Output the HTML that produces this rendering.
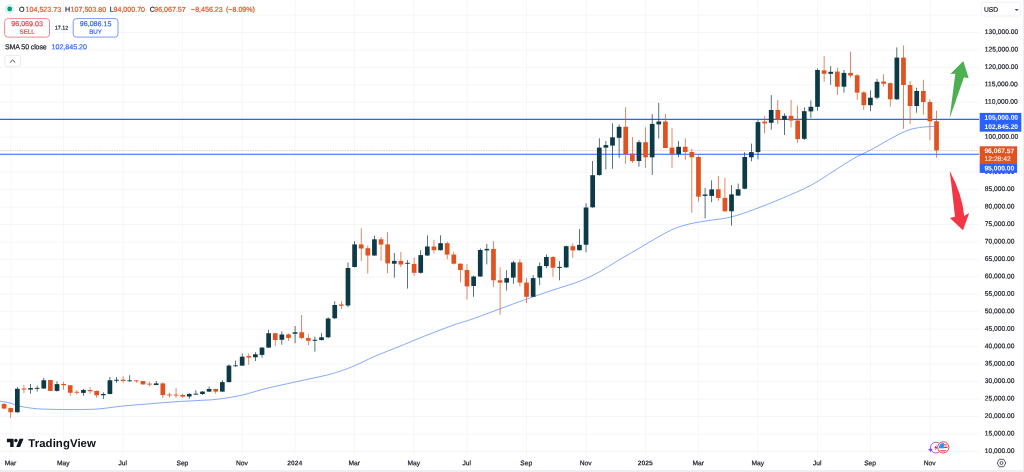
<!DOCTYPE html>
<html><head><meta charset="utf-8"><title>Chart</title>
<style>
html,body{margin:0;padding:0;background:#fff;}
#w{position:relative;width:1024px;height:472px;overflow:hidden;background:#eceef2;font-family:"Liberation Sans",sans-serif;}
#p{position:absolute;left:0;top:0;width:1022.6px;height:470.2px;background:#fff;}
svg{position:absolute;left:0;top:0;}
.t{position:absolute;white-space:nowrap;line-height:1;}
.lg{font-size:7.1px;}
.sm{font-size:6.2px;}
.xs{font-size:5.4px;}
.ax{font-size:6.7px;}
.k{color:#131722;}
.o{color:#e0521f;}
.w{color:#fff;}
.b{font-weight:bold;}
.tv{font-size:11.4px;font-weight:bold;color:#131722;letter-spacing:-0.2px;}
.bx{position:absolute;}
</style></head><body>
<div id="w"><div id="p"></div>
<svg width="1024" height="472" viewBox="0 0 1024 472">
<line x1="0" x2="979" y1="451.40" y2="451.40" stroke="#f3f4f7" stroke-width="0.8"/>
<line x1="0" x2="979" y1="433.94" y2="433.94" stroke="#f3f4f7" stroke-width="0.8"/>
<line x1="0" x2="979" y1="416.49" y2="416.49" stroke="#f3f4f7" stroke-width="0.8"/>
<line x1="0" x2="979" y1="399.03" y2="399.03" stroke="#f3f4f7" stroke-width="0.8"/>
<line x1="0" x2="979" y1="381.58" y2="381.58" stroke="#f3f4f7" stroke-width="0.8"/>
<line x1="0" x2="979" y1="364.12" y2="364.12" stroke="#f3f4f7" stroke-width="0.8"/>
<line x1="0" x2="979" y1="346.67" y2="346.67" stroke="#f3f4f7" stroke-width="0.8"/>
<line x1="0" x2="979" y1="329.21" y2="329.21" stroke="#f3f4f7" stroke-width="0.8"/>
<line x1="0" x2="979" y1="311.76" y2="311.76" stroke="#f3f4f7" stroke-width="0.8"/>
<line x1="0" x2="979" y1="294.30" y2="294.30" stroke="#f3f4f7" stroke-width="0.8"/>
<line x1="0" x2="979" y1="276.85" y2="276.85" stroke="#f3f4f7" stroke-width="0.8"/>
<line x1="0" x2="979" y1="259.39" y2="259.39" stroke="#f3f4f7" stroke-width="0.8"/>
<line x1="0" x2="979" y1="241.94" y2="241.94" stroke="#f3f4f7" stroke-width="0.8"/>
<line x1="0" x2="979" y1="224.48" y2="224.48" stroke="#f3f4f7" stroke-width="0.8"/>
<line x1="0" x2="979" y1="207.03" y2="207.03" stroke="#f3f4f7" stroke-width="0.8"/>
<line x1="0" x2="979" y1="189.57" y2="189.57" stroke="#f3f4f7" stroke-width="0.8"/>
<line x1="0" x2="979" y1="172.12" y2="172.12" stroke="#f3f4f7" stroke-width="0.8"/>
<line x1="0" x2="979" y1="154.66" y2="154.66" stroke="#f3f4f7" stroke-width="0.8"/>
<line x1="0" x2="979" y1="137.21" y2="137.21" stroke="#f3f4f7" stroke-width="0.8"/>
<line x1="0" x2="979" y1="119.75" y2="119.75" stroke="#f3f4f7" stroke-width="0.8"/>
<line x1="0" x2="979" y1="102.30" y2="102.30" stroke="#f3f4f7" stroke-width="0.8"/>
<line x1="0" x2="979" y1="84.84" y2="84.84" stroke="#f3f4f7" stroke-width="0.8"/>
<line x1="0" x2="979" y1="67.39" y2="67.39" stroke="#f3f4f7" stroke-width="0.8"/>
<line x1="0" x2="979" y1="49.93" y2="49.93" stroke="#f3f4f7" stroke-width="0.8"/>
<line x1="0" x2="979" y1="32.48" y2="32.48" stroke="#f3f4f7" stroke-width="0.8"/>
<line x1="0" x2="979" y1="15.02" y2="15.02" stroke="#f3f4f7" stroke-width="0.8"/>
<line x1="10.71" x2="10.71" y1="0" y2="455" stroke="#f3f4f7" stroke-width="0.8"/>
<line x1="63.62" x2="63.62" y1="0" y2="455" stroke="#f3f4f7" stroke-width="0.8"/>
<line x1="123.13" x2="123.13" y1="0" y2="455" stroke="#f3f4f7" stroke-width="0.8"/>
<line x1="182.65" x2="182.65" y1="0" y2="455" stroke="#f3f4f7" stroke-width="0.8"/>
<line x1="242.17" x2="242.17" y1="0" y2="455" stroke="#f3f4f7" stroke-width="0.8"/>
<line x1="295.07" x2="295.07" y1="0" y2="455" stroke="#f3f4f7" stroke-width="0.8"/>
<line x1="354.59" x2="354.59" y1="0" y2="455" stroke="#f3f4f7" stroke-width="0.8"/>
<line x1="414.11" x2="414.11" y1="0" y2="455" stroke="#f3f4f7" stroke-width="0.8"/>
<line x1="467.01" x2="467.01" y1="0" y2="455" stroke="#f3f4f7" stroke-width="0.8"/>
<line x1="526.53" x2="526.53" y1="0" y2="455" stroke="#f3f4f7" stroke-width="0.8"/>
<line x1="586.04" x2="586.04" y1="0" y2="455" stroke="#f3f4f7" stroke-width="0.8"/>
<line x1="645.56" x2="645.56" y1="0" y2="455" stroke="#f3f4f7" stroke-width="0.8"/>
<line x1="698.47" x2="698.47" y1="0" y2="455" stroke="#f3f4f7" stroke-width="0.8"/>
<line x1="757.98" x2="757.98" y1="0" y2="455" stroke="#f3f4f7" stroke-width="0.8"/>
<line x1="817.50" x2="817.50" y1="0" y2="455" stroke="#f3f4f7" stroke-width="0.8"/>
<line x1="870.40" x2="870.40" y1="0" y2="455" stroke="#f3f4f7" stroke-width="0.8"/>
<line x1="929.92" x2="929.92" y1="0" y2="455" stroke="#f3f4f7" stroke-width="0.8"/>
<path d="M0.0,401.2 C1.7,401.5 6.7,402.2 10.0,403.0 C13.3,403.8 15.4,405.3 20.0,406.2 C24.6,407.2 30.4,408.2 37.5,408.8 C44.6,409.3 55.0,409.4 62.5,409.5 C70.0,409.6 76.2,409.6 82.5,409.5 C88.8,409.4 92.9,409.4 100.0,408.8 C107.1,408.1 116.7,406.6 125.0,405.8 C133.3,404.9 141.7,404.4 150.0,403.8 C158.3,403.1 166.7,402.3 175.0,401.8 C183.3,401.2 192.9,400.8 200.0,400.4 C207.1,400.0 210.4,400.1 217.5,399.2 C224.6,398.4 234.6,396.8 242.5,395.0 C250.4,393.2 256.2,390.9 265.0,388.8 C273.8,386.6 285.0,384.2 295.0,382.0 C305.0,379.8 317.5,377.3 325.0,375.5 C332.5,373.7 335.0,372.9 340.0,371.2 C345.0,369.6 349.2,368.0 355.0,365.5 C360.8,363.0 367.5,359.5 375.0,356.2 C382.5,353.0 393.3,349.0 400.0,346.2 C406.7,343.5 409.2,342.4 415.0,340.0 C420.8,337.6 428.2,334.6 435.0,332.0 C441.8,329.4 449.9,326.4 456.0,324.2 C462.1,322.1 464.4,321.8 471.8,319.2 C479.2,316.6 491.4,312.0 500.4,308.7 C509.4,305.4 517.3,302.4 525.8,299.4 C534.3,296.4 542.2,293.6 551.2,290.6 C560.2,287.6 571.8,284.3 579.8,281.2 C587.8,278.1 592.5,275.6 598.9,272.2 C605.2,268.8 611.5,264.4 617.9,260.6 C624.2,256.8 630.6,253.2 637.0,249.5 C643.4,245.8 649.8,241.7 656.1,238.2 C662.5,234.7 668.8,230.9 675.1,228.3 C681.5,225.8 687.8,224.3 694.2,222.9 C700.6,221.5 707.3,220.9 713.3,219.9 C719.3,218.9 723.3,219.0 730.3,217.2 C737.3,215.4 746.4,212.3 755.1,209.1 C763.8,205.9 773.4,202.0 782.6,198.1 C791.8,194.2 801.9,190.0 810.2,185.7 C818.5,181.3 824.9,176.6 832.2,172.0 C839.5,167.4 847.8,161.9 854.2,158.2 C860.6,154.5 864.4,153.3 870.8,149.9 C877.2,146.5 886.4,140.8 892.8,137.5 C899.2,134.2 904.2,131.5 909.3,129.8 C914.3,128.1 918.4,127.7 923.1,127.1 C927.8,126.5 935.1,126.5 937.5,126.4" fill="none" stroke="#6494fb" stroke-width="0.8" stroke-linejoin="round"/>
<line x1="0" x2="979" y1="119.3" y2="119.3" stroke="#2962ff" stroke-width="1.15"/>
<line x1="0" x2="979" y1="154.2" y2="154.2" stroke="#2962ff" stroke-width="1.15"/>
<line x1="0" x2="979" y1="150.6" y2="150.6" stroke="#e0521f" stroke-width="0.7" stroke-dasharray="0.8 0.9" opacity="0.6"/>
<rect x="3.75" y="403.00" width="0.7" height="6.40" fill="#e0521f"/>
<rect x="1.75" y="404.00" width="4.7" height="4.50" fill="#e0521f"/>
<rect x="10.36" y="407.50" width="0.7" height="10.60" fill="#e0521f"/>
<rect x="8.36" y="408.10" width="4.7" height="4.15" fill="#e0521f"/>
<rect x="16.98" y="387.25" width="0.7" height="25.35" fill="#0c3a47"/>
<rect x="14.98" y="388.75" width="4.7" height="23.50" fill="#0c3a47"/>
<rect x="23.59" y="385.00" width="0.7" height="8.10" fill="#e0521f"/>
<rect x="21.59" y="388.50" width="4.7" height="1.00" fill="#e0521f"/>
<rect x="30.20" y="384.00" width="0.7" height="9.75" fill="#0c3a47"/>
<rect x="28.20" y="388.10" width="4.7" height="1.50" fill="#0c3a47"/>
<rect x="36.82" y="385.60" width="0.7" height="5.90" fill="#0c3a47"/>
<rect x="34.82" y="387.88" width="4.7" height="0.90" fill="#0c3a47"/>
<rect x="43.43" y="377.90" width="0.7" height="10.85" fill="#0c3a47"/>
<rect x="41.43" y="380.25" width="4.7" height="8.25" fill="#0c3a47"/>
<rect x="50.04" y="379.80" width="0.7" height="11.40" fill="#e0521f"/>
<rect x="48.04" y="380.00" width="4.7" height="10.90" fill="#e0521f"/>
<rect x="56.65" y="381.25" width="0.7" height="10.35" fill="#0c3a47"/>
<rect x="54.65" y="384.10" width="4.7" height="6.80" fill="#0c3a47"/>
<rect x="63.27" y="381.90" width="0.7" height="7.70" fill="#e0521f"/>
<rect x="61.27" y="384.00" width="4.7" height="1.25" fill="#e0521f"/>
<rect x="69.88" y="385.00" width="0.7" height="10.60" fill="#e0521f"/>
<rect x="67.88" y="385.25" width="4.7" height="7.50" fill="#e0521f"/>
<rect x="76.49" y="390.00" width="0.7" height="4.40" fill="#e0521f"/>
<rect x="74.49" y="391.80" width="4.7" height="0.90" fill="#e0521f"/>
<rect x="83.11" y="389.00" width="0.7" height="6.60" fill="#0c3a47"/>
<rect x="81.11" y="390.00" width="4.7" height="2.90" fill="#0c3a47"/>
<rect x="89.72" y="387.25" width="0.7" height="6.50" fill="#e0521f"/>
<rect x="87.72" y="390.00" width="4.7" height="1.25" fill="#e0521f"/>
<rect x="96.33" y="390.60" width="0.7" height="7.15" fill="#e0521f"/>
<rect x="94.33" y="390.90" width="4.7" height="4.35" fill="#e0521f"/>
<rect x="102.95" y="392.25" width="0.7" height="6.75" fill="#0c3a47"/>
<rect x="100.95" y="394.00" width="4.7" height="1.25" fill="#0c3a47"/>
<rect x="109.56" y="376.90" width="0.7" height="17.50" fill="#0c3a47"/>
<rect x="107.56" y="380.25" width="4.7" height="13.75" fill="#0c3a47"/>
<rect x="116.17" y="376.90" width="0.7" height="5.85" fill="#0c3a47"/>
<rect x="114.17" y="379.75" width="4.7" height="1.00" fill="#0c3a47"/>
<rect x="122.78" y="376.25" width="0.7" height="6.25" fill="#e0521f"/>
<rect x="120.78" y="379.75" width="4.7" height="1.25" fill="#e0521f"/>
<rect x="129.40" y="375.25" width="0.7" height="6.25" fill="#0c3a47"/>
<rect x="127.40" y="380.38" width="4.7" height="0.90" fill="#0c3a47"/>
<rect x="136.01" y="380.00" width="0.7" height="2.75" fill="#e0521f"/>
<rect x="134.01" y="380.38" width="4.7" height="0.90" fill="#e0521f"/>
<rect x="142.62" y="380.80" width="0.7" height="3.80" fill="#e0521f"/>
<rect x="140.62" y="381.00" width="4.7" height="3.40" fill="#e0521f"/>
<rect x="149.24" y="381.90" width="0.7" height="4.35" fill="#e0521f"/>
<rect x="147.24" y="383.68" width="4.7" height="0.90" fill="#e0521f"/>
<rect x="155.85" y="381.00" width="0.7" height="4.25" fill="#0c3a47"/>
<rect x="153.85" y="383.40" width="4.7" height="1.60" fill="#0c3a47"/>
<rect x="162.46" y="382.50" width="0.7" height="15.60" fill="#e0521f"/>
<rect x="160.46" y="383.40" width="4.7" height="11.60" fill="#e0521f"/>
<rect x="169.08" y="392.75" width="0.7" height="4.75" fill="#e0521f"/>
<rect x="167.08" y="394.55" width="4.7" height="0.90" fill="#e0521f"/>
<rect x="175.69" y="388.10" width="0.7" height="9.65" fill="#e0521f"/>
<rect x="173.69" y="394.60" width="4.7" height="0.90" fill="#e0521f"/>
<rect x="182.30" y="393.75" width="0.7" height="4.00" fill="#e0521f"/>
<rect x="180.30" y="395.00" width="4.7" height="1.60" fill="#e0521f"/>
<rect x="188.91" y="393.10" width="0.7" height="5.65" fill="#0c3a47"/>
<rect x="186.91" y="394.00" width="4.7" height="2.50" fill="#0c3a47"/>
<rect x="195.53" y="390.25" width="0.7" height="4.50" fill="#0c3a47"/>
<rect x="193.53" y="393.68" width="4.7" height="0.90" fill="#0c3a47"/>
<rect x="202.14" y="391.00" width="0.7" height="4.00" fill="#0c3a47"/>
<rect x="200.14" y="391.60" width="4.7" height="2.40" fill="#0c3a47"/>
<rect x="208.75" y="386.50" width="0.7" height="5.40" fill="#0c3a47"/>
<rect x="206.75" y="389.00" width="4.7" height="2.60" fill="#0c3a47"/>
<rect x="215.37" y="388.75" width="0.7" height="5.00" fill="#e0521f"/>
<rect x="213.37" y="389.00" width="4.7" height="2.60" fill="#e0521f"/>
<rect x="221.98" y="380.25" width="0.7" height="11.65" fill="#0c3a47"/>
<rect x="219.98" y="382.10" width="4.7" height="9.50" fill="#0c3a47"/>
<rect x="228.59" y="364.40" width="0.7" height="18.10" fill="#0c3a47"/>
<rect x="226.59" y="365.60" width="4.7" height="16.50" fill="#0c3a47"/>
<rect x="235.21" y="360.60" width="0.7" height="6.00" fill="#0c3a47"/>
<rect x="233.21" y="365.38" width="4.7" height="0.90" fill="#0c3a47"/>
<rect x="241.82" y="353.50" width="0.7" height="12.50" fill="#0c3a47"/>
<rect x="239.82" y="356.70" width="4.7" height="8.90" fill="#0c3a47"/>
<rect x="248.43" y="353.50" width="0.7" height="11.20" fill="#e0521f"/>
<rect x="246.43" y="356.10" width="4.7" height="1.50" fill="#e0521f"/>
<rect x="255.04" y="352.20" width="0.7" height="8.80" fill="#0c3a47"/>
<rect x="253.04" y="354.30" width="4.7" height="3.00" fill="#0c3a47"/>
<rect x="261.66" y="347.20" width="0.7" height="10.40" fill="#0c3a47"/>
<rect x="259.66" y="347.60" width="4.7" height="7.30" fill="#0c3a47"/>
<rect x="268.27" y="329.75" width="0.7" height="18.15" fill="#0c3a47"/>
<rect x="266.27" y="333.25" width="4.7" height="14.35" fill="#0c3a47"/>
<rect x="274.88" y="333.00" width="0.7" height="13.00" fill="#e0521f"/>
<rect x="272.88" y="333.25" width="4.7" height="6.75" fill="#e0521f"/>
<rect x="281.50" y="331.25" width="0.7" height="13.50" fill="#0c3a47"/>
<rect x="279.50" y="334.50" width="4.7" height="5.25" fill="#0c3a47"/>
<rect x="288.11" y="333.50" width="0.7" height="7.25" fill="#e0521f"/>
<rect x="286.11" y="334.40" width="4.7" height="3.50" fill="#e0521f"/>
<rect x="294.72" y="326.00" width="0.7" height="17.25" fill="#0c3a47"/>
<rect x="292.72" y="332.25" width="4.7" height="1.50" fill="#0c3a47"/>
<rect x="301.34" y="315.00" width="0.7" height="24.10" fill="#e0521f"/>
<rect x="299.34" y="332.25" width="4.7" height="5.65" fill="#e0521f"/>
<rect x="307.95" y="334.10" width="0.7" height="11.30" fill="#e0521f"/>
<rect x="305.95" y="338.10" width="4.7" height="2.65" fill="#e0521f"/>
<rect x="314.56" y="336.60" width="0.7" height="15.00" fill="#0c3a47"/>
<rect x="312.56" y="339.75" width="4.7" height="1.00" fill="#0c3a47"/>
<rect x="321.17" y="333.10" width="0.7" height="7.30" fill="#0c3a47"/>
<rect x="319.17" y="337.25" width="4.7" height="2.85" fill="#0c3a47"/>
<rect x="327.79" y="317.25" width="0.7" height="21.00" fill="#0c3a47"/>
<rect x="325.79" y="318.50" width="4.7" height="18.75" fill="#0c3a47"/>
<rect x="334.40" y="301.25" width="0.7" height="17.85" fill="#0c3a47"/>
<rect x="332.40" y="305.00" width="4.7" height="13.25" fill="#0c3a47"/>
<rect x="341.01" y="301.25" width="0.7" height="7.85" fill="#e0521f"/>
<rect x="339.01" y="304.50" width="4.7" height="1.25" fill="#e0521f"/>
<rect x="347.63" y="262.50" width="0.7" height="44.60" fill="#0c3a47"/>
<rect x="345.63" y="268.00" width="4.7" height="37.50" fill="#0c3a47"/>
<rect x="354.24" y="241.10" width="0.7" height="26.40" fill="#0c3a47"/>
<rect x="352.24" y="244.40" width="4.7" height="22.60" fill="#0c3a47"/>
<rect x="360.85" y="228.35" width="0.7" height="32.55" fill="#e0521f"/>
<rect x="358.85" y="244.40" width="4.7" height="4.10" fill="#e0521f"/>
<rect x="367.47" y="245.50" width="0.7" height="28.10" fill="#e0521f"/>
<rect x="365.47" y="248.20" width="4.7" height="7.30" fill="#e0521f"/>
<rect x="374.08" y="235.70" width="0.7" height="20.20" fill="#0c3a47"/>
<rect x="372.08" y="239.30" width="4.7" height="16.20" fill="#0c3a47"/>
<rect x="380.69" y="237.00" width="0.7" height="23.90" fill="#e0521f"/>
<rect x="378.69" y="239.30" width="4.7" height="5.20" fill="#e0521f"/>
<rect x="387.30" y="232.20" width="0.7" height="41.10" fill="#e0521f"/>
<rect x="385.30" y="244.40" width="4.7" height="19.00" fill="#e0521f"/>
<rect x="393.92" y="253.00" width="0.7" height="24.70" fill="#0c3a47"/>
<rect x="391.92" y="260.90" width="4.7" height="2.80" fill="#0c3a47"/>
<rect x="400.53" y="251.80" width="0.7" height="15.20" fill="#e0521f"/>
<rect x="398.53" y="260.90" width="4.7" height="3.60" fill="#e0521f"/>
<rect x="407.14" y="260.10" width="0.7" height="28.50" fill="#0c3a47"/>
<rect x="405.14" y="262.85" width="4.7" height="0.90" fill="#0c3a47"/>
<rect x="413.76" y="257.60" width="0.7" height="18.20" fill="#e0521f"/>
<rect x="411.76" y="263.90" width="4.7" height="8.90" fill="#e0521f"/>
<rect x="420.37" y="250.20" width="0.7" height="23.40" fill="#0c3a47"/>
<rect x="418.37" y="255.10" width="4.7" height="17.70" fill="#0c3a47"/>
<rect x="426.98" y="235.30" width="0.7" height="20.60" fill="#0c3a47"/>
<rect x="424.98" y="246.50" width="4.7" height="9.00" fill="#0c3a47"/>
<rect x="433.60" y="239.80" width="0.7" height="13.70" fill="#e0521f"/>
<rect x="431.60" y="246.50" width="4.7" height="3.70" fill="#e0521f"/>
<rect x="440.21" y="235.30" width="0.7" height="15.20" fill="#0c3a47"/>
<rect x="438.21" y="243.20" width="4.7" height="7.00" fill="#0c3a47"/>
<rect x="446.82" y="241.60" width="0.7" height="17.70" fill="#e0521f"/>
<rect x="444.82" y="243.20" width="4.7" height="11.40" fill="#e0521f"/>
<rect x="453.43" y="251.80" width="0.7" height="12.70" fill="#e0521f"/>
<rect x="451.43" y="254.60" width="4.7" height="9.10" fill="#e0521f"/>
<rect x="460.05" y="263.40" width="0.7" height="19.00" fill="#e0521f"/>
<rect x="458.05" y="263.70" width="4.7" height="6.30" fill="#e0521f"/>
<rect x="466.66" y="264.10" width="0.7" height="35.50" fill="#e0521f"/>
<rect x="464.66" y="270.00" width="4.7" height="16.40" fill="#e0521f"/>
<rect x="473.27" y="275.60" width="0.7" height="21.20" fill="#0c3a47"/>
<rect x="471.27" y="276.50" width="4.7" height="9.50" fill="#0c3a47"/>
<rect x="479.89" y="248.40" width="0.7" height="28.40" fill="#0c3a47"/>
<rect x="477.89" y="250.00" width="4.7" height="26.50" fill="#0c3a47"/>
<rect x="486.50" y="243.90" width="0.7" height="20.50" fill="#0c3a47"/>
<rect x="484.50" y="248.90" width="4.7" height="1.50" fill="#0c3a47"/>
<rect x="493.11" y="241.30" width="0.7" height="45.60" fill="#e0521f"/>
<rect x="491.11" y="248.90" width="4.7" height="31.40" fill="#e0521f"/>
<rect x="499.73" y="267.40" width="0.7" height="47.30" fill="#e0521f"/>
<rect x="497.73" y="280.30" width="4.7" height="2.30" fill="#e0521f"/>
<rect x="506.34" y="270.20" width="0.7" height="20.30" fill="#0c3a47"/>
<rect x="504.34" y="278.10" width="4.7" height="4.50" fill="#0c3a47"/>
<rect x="512.95" y="260.80" width="0.7" height="23.10" fill="#0c3a47"/>
<rect x="510.95" y="262.40" width="4.7" height="15.20" fill="#0c3a47"/>
<rect x="519.56" y="259.10" width="0.7" height="27.30" fill="#e0521f"/>
<rect x="517.56" y="262.40" width="4.7" height="20.20" fill="#e0521f"/>
<rect x="526.18" y="278.10" width="0.7" height="24.80" fill="#e0521f"/>
<rect x="524.18" y="282.60" width="4.7" height="14.20" fill="#e0521f"/>
<rect x="532.79" y="275.10" width="0.7" height="22.00" fill="#0c3a47"/>
<rect x="530.79" y="278.10" width="4.7" height="18.70" fill="#0c3a47"/>
<rect x="539.40" y="262.40" width="0.7" height="22.80" fill="#0c3a47"/>
<rect x="537.40" y="266.10" width="4.7" height="11.50" fill="#0c3a47"/>
<rect x="546.02" y="254.50" width="0.7" height="13.70" fill="#0c3a47"/>
<rect x="544.02" y="257.00" width="4.7" height="9.10" fill="#0c3a47"/>
<rect x="552.63" y="256.10" width="0.7" height="20.70" fill="#e0521f"/>
<rect x="550.63" y="257.00" width="4.7" height="10.70" fill="#e0521f"/>
<rect x="559.24" y="261.10" width="0.7" height="19.20" fill="#0c3a47"/>
<rect x="557.24" y="266.90" width="4.7" height="1.00" fill="#0c3a47"/>
<rect x="565.86" y="245.60" width="0.7" height="22.10" fill="#0c3a47"/>
<rect x="563.86" y="246.20" width="4.7" height="21.20" fill="#0c3a47"/>
<rect x="572.47" y="243.40" width="0.7" height="14.40" fill="#e0521f"/>
<rect x="570.47" y="246.20" width="4.7" height="4.20" fill="#e0521f"/>
<rect x="579.08" y="229.00" width="0.7" height="21.50" fill="#0c3a47"/>
<rect x="577.08" y="244.90" width="4.7" height="5.30" fill="#0c3a47"/>
<rect x="585.69" y="203.30" width="0.7" height="49.00" fill="#0c3a47"/>
<rect x="583.69" y="207.50" width="4.7" height="37.20" fill="#0c3a47"/>
<rect x="592.31" y="161.00" width="0.7" height="46.80" fill="#0c3a47"/>
<rect x="590.31" y="175.20" width="4.7" height="32.10" fill="#0c3a47"/>
<rect x="598.92" y="138.30" width="0.7" height="37.30" fill="#0c3a47"/>
<rect x="596.92" y="147.60" width="4.7" height="27.50" fill="#0c3a47"/>
<rect x="605.53" y="141.00" width="0.7" height="28.50" fill="#0c3a47"/>
<rect x="603.53" y="145.10" width="4.7" height="2.50" fill="#0c3a47"/>
<rect x="612.15" y="123.20" width="0.7" height="45.60" fill="#0c3a47"/>
<rect x="610.15" y="137.30" width="4.7" height="8.30" fill="#0c3a47"/>
<rect x="618.76" y="124.40" width="0.7" height="33.40" fill="#0c3a47"/>
<rect x="616.76" y="126.80" width="4.7" height="11.00" fill="#0c3a47"/>
<rect x="625.37" y="107.30" width="0.7" height="56.60" fill="#e0521f"/>
<rect x="623.37" y="126.80" width="4.7" height="27.30" fill="#e0521f"/>
<rect x="631.99" y="137.10" width="0.7" height="25.80" fill="#e0521f"/>
<rect x="629.99" y="153.70" width="4.7" height="7.30" fill="#e0521f"/>
<rect x="638.60" y="140.20" width="0.7" height="26.40" fill="#0c3a47"/>
<rect x="636.60" y="142.20" width="4.7" height="18.80" fill="#0c3a47"/>
<rect x="645.21" y="127.30" width="0.7" height="40.50" fill="#e0521f"/>
<rect x="643.21" y="142.20" width="4.7" height="15.10" fill="#e0521f"/>
<rect x="651.82" y="114.10" width="0.7" height="60.80" fill="#0c3a47"/>
<rect x="649.82" y="123.90" width="4.7" height="33.40" fill="#0c3a47"/>
<rect x="658.44" y="102.90" width="0.7" height="35.60" fill="#0c3a47"/>
<rect x="656.44" y="121.50" width="4.7" height="2.90" fill="#0c3a47"/>
<rect x="665.05" y="114.10" width="0.7" height="34.20" fill="#e0521f"/>
<rect x="663.05" y="121.50" width="4.7" height="26.50" fill="#e0521f"/>
<rect x="671.66" y="128.00" width="0.7" height="39.80" fill="#e0521f"/>
<rect x="669.66" y="147.60" width="4.7" height="6.50" fill="#e0521f"/>
<rect x="678.28" y="141.00" width="0.7" height="16.30" fill="#0c3a47"/>
<rect x="676.28" y="146.80" width="4.7" height="7.30" fill="#0c3a47"/>
<rect x="684.89" y="138.50" width="0.7" height="21.30" fill="#e0521f"/>
<rect x="682.89" y="146.80" width="4.7" height="5.20" fill="#e0521f"/>
<rect x="691.50" y="148.80" width="0.7" height="63.90" fill="#e0521f"/>
<rect x="689.50" y="152.00" width="4.7" height="5.30" fill="#e0521f"/>
<rect x="698.12" y="155.60" width="0.7" height="46.00" fill="#e0521f"/>
<rect x="696.12" y="157.00" width="4.7" height="39.60" fill="#e0521f"/>
<rect x="704.73" y="187.90" width="0.7" height="30.50" fill="#0c3a47"/>
<rect x="702.73" y="194.50" width="4.7" height="1.40" fill="#0c3a47"/>
<rect x="711.34" y="180.30" width="0.7" height="21.90" fill="#0c3a47"/>
<rect x="709.34" y="189.40" width="4.7" height="6.50" fill="#0c3a47"/>
<rect x="717.95" y="175.90" width="0.7" height="24.80" fill="#e0521f"/>
<rect x="715.95" y="189.30" width="4.7" height="8.60" fill="#e0521f"/>
<rect x="724.57" y="177.90" width="0.7" height="33.70" fill="#e0521f"/>
<rect x="722.57" y="197.90" width="4.7" height="13.40" fill="#e0521f"/>
<rect x="731.18" y="185.00" width="0.7" height="40.60" fill="#0c3a47"/>
<rect x="729.18" y="194.40" width="4.7" height="16.90" fill="#0c3a47"/>
<rect x="737.79" y="183.60" width="0.7" height="12.30" fill="#0c3a47"/>
<rect x="735.79" y="189.30" width="4.7" height="6.30" fill="#0c3a47"/>
<rect x="744.41" y="152.10" width="0.7" height="37.20" fill="#0c3a47"/>
<rect x="742.41" y="157.00" width="4.7" height="31.70" fill="#0c3a47"/>
<rect x="751.02" y="143.60" width="0.7" height="17.70" fill="#0c3a47"/>
<rect x="749.02" y="152.10" width="4.7" height="5.20" fill="#0c3a47"/>
<rect x="757.63" y="120.10" width="0.7" height="39.20" fill="#0c3a47"/>
<rect x="755.63" y="122.10" width="4.7" height="30.00" fill="#0c3a47"/>
<rect x="764.25" y="116.20" width="0.7" height="17.20" fill="#e0521f"/>
<rect x="762.25" y="121.60" width="4.7" height="1.80" fill="#e0521f"/>
<rect x="770.86" y="95.10" width="0.7" height="34.60" fill="#0c3a47"/>
<rect x="768.86" y="110.00" width="4.7" height="12.80" fill="#0c3a47"/>
<rect x="777.47" y="100.00" width="0.7" height="24.20" fill="#e0521f"/>
<rect x="775.47" y="110.00" width="4.7" height="9.80" fill="#e0521f"/>
<rect x="784.08" y="113.40" width="0.7" height="21.60" fill="#0c3a47"/>
<rect x="782.08" y="115.80" width="4.7" height="4.00" fill="#0c3a47"/>
<rect x="790.70" y="99.80" width="0.7" height="27.70" fill="#e0521f"/>
<rect x="788.70" y="115.80" width="4.7" height="4.70" fill="#e0521f"/>
<rect x="797.31" y="105.70" width="0.7" height="37.10" fill="#e0521f"/>
<rect x="795.31" y="120.50" width="4.7" height="18.60" fill="#e0521f"/>
<rect x="803.92" y="107.30" width="0.7" height="32.70" fill="#0c3a47"/>
<rect x="801.92" y="111.20" width="4.7" height="27.60" fill="#0c3a47"/>
<rect x="810.54" y="100.40" width="0.7" height="17.60" fill="#0c3a47"/>
<rect x="808.54" y="106.80" width="4.7" height="4.60" fill="#0c3a47"/>
<rect x="817.15" y="68.40" width="0.7" height="42.30" fill="#0c3a47"/>
<rect x="815.15" y="70.00" width="4.7" height="36.80" fill="#0c3a47"/>
<rect x="823.76" y="56.20" width="0.7" height="25.60" fill="#e0521f"/>
<rect x="821.76" y="70.40" width="4.7" height="3.40" fill="#e0521f"/>
<rect x="830.38" y="66.20" width="0.7" height="18.70" fill="#0c3a47"/>
<rect x="828.38" y="71.80" width="4.7" height="2.00" fill="#0c3a47"/>
<rect x="836.99" y="67.80" width="0.7" height="27.10" fill="#e0521f"/>
<rect x="834.99" y="71.60" width="4.7" height="15.10" fill="#e0521f"/>
<rect x="843.60" y="70.00" width="0.7" height="22.70" fill="#0c3a47"/>
<rect x="841.60" y="72.90" width="4.7" height="13.80" fill="#0c3a47"/>
<rect x="850.21" y="51.60" width="0.7" height="26.20" fill="#e0521f"/>
<rect x="848.21" y="72.90" width="4.7" height="2.70" fill="#e0521f"/>
<rect x="856.83" y="74.10" width="0.7" height="25.60" fill="#e0521f"/>
<rect x="854.83" y="75.30" width="4.7" height="17.30" fill="#e0521f"/>
<rect x="863.44" y="91.20" width="0.7" height="18.80" fill="#e0521f"/>
<rect x="861.44" y="92.40" width="4.7" height="12.80" fill="#e0521f"/>
<rect x="870.05" y="90.40" width="0.7" height="20.70" fill="#0c3a47"/>
<rect x="868.05" y="97.70" width="4.7" height="7.50" fill="#0c3a47"/>
<rect x="876.67" y="78.90" width="0.7" height="20.40" fill="#0c3a47"/>
<rect x="874.67" y="81.80" width="4.7" height="15.90" fill="#0c3a47"/>
<rect x="883.28" y="74.30" width="0.7" height="12.10" fill="#e0521f"/>
<rect x="881.28" y="81.50" width="4.7" height="2.20" fill="#e0521f"/>
<rect x="889.89" y="82.40" width="0.7" height="24.10" fill="#e0521f"/>
<rect x="887.89" y="83.20" width="4.7" height="16.10" fill="#e0521f"/>
<rect x="896.51" y="47.40" width="0.7" height="52.40" fill="#0c3a47"/>
<rect x="894.51" y="57.60" width="4.7" height="41.70" fill="#0c3a47"/>
<rect x="903.12" y="45.50" width="0.7" height="83.40" fill="#e0521f"/>
<rect x="901.12" y="57.60" width="4.7" height="27.40" fill="#e0521f"/>
<rect x="909.73" y="81.00" width="0.7" height="43.00" fill="#e0521f"/>
<rect x="907.73" y="85.00" width="4.7" height="21.00" fill="#e0521f"/>
<rect x="916.34" y="87.70" width="0.7" height="25.00" fill="#0c3a47"/>
<rect x="914.34" y="91.00" width="4.7" height="15.00" fill="#0c3a47"/>
<rect x="922.96" y="79.70" width="0.7" height="34.90" fill="#e0521f"/>
<rect x="920.96" y="91.00" width="4.7" height="11.00" fill="#e0521f"/>
<rect x="929.57" y="99.30" width="0.7" height="40.90" fill="#e0521f"/>
<rect x="927.57" y="102.00" width="4.7" height="19.30" fill="#e0521f"/>
<rect x="936.18" y="110.60" width="0.7" height="47.00" fill="#e0521f"/>
<rect x="934.18" y="121.30" width="4.7" height="29.10" fill="#e0521f"/>
<polygon points="949.6,118.6 955.3,73.8 950.4,74.1 963.3,61.1 968.7,78.3 964,77.3" fill="#4caf50"/>
<path d="M949.7,171 Q962.3,194.4 964.2,215.9 L969.2,212.9 L963,230.3 L949.9,218 L955,216.8 Q952.6,194 949.7,171 Z" fill="#f23645"/>
<circle cx="9.7" cy="9" r="5" fill="#e1f3ef"/><circle cx="9.7" cy="9" r="2.4" fill="#089981"/>
<rect x="4.9" y="55.4" width="15.5" height="10.9" rx="1.5" fill="#fff" stroke="#e0e3eb" stroke-width="0.7"/>
<polyline points="10.3,62.2 12.6,60 14.9,62.2" fill="none" stroke="#2a2e39" stroke-width="0.9" stroke-linecap="round" stroke-linejoin="round"/>
<rect x="4.7" y="18.6" width="44.8" height="18.5" rx="3" fill="#fff" stroke="#f57681" stroke-width="0.9"/>
<rect x="73.2" y="18.6" width="44.8" height="18.5" rx="3" fill="#fff" stroke="#6a91ff" stroke-width="0.9"/>
<rect x="981.4" y="2.3" width="39.2" height="13.7" rx="2" fill="#fff" stroke="#eceef2" stroke-width="0.8"/>
<polygon points="1014.6,8.9 1018.8,8.9 1016.7,11.1" fill="#50535e"/>
<circle cx="935.9" cy="447.6" r="5.4" fill="#fff" stroke="#ab47bc" stroke-width="0.9"/>
<path d="M936.6,444.6 L934.2,448.2 L935.8,448.2 L935,450.8 L937.6,447 L936,447 Z" fill="#9c27b0"/>
<path d="M930.4,447.2 Q930.8,449.4 933,449.8 Q930.8,450.2 930.4,452.4 Q930,450.2 927.8,449.8 Q930,449.4 930.4,447.2Z" fill="#7c4dff"/>
<circle cx="943.3" cy="447.4" r="5.6" fill="#fff" stroke="#f23645" stroke-width="1"/>
<clipPath id="fc"><circle cx="943.3" cy="447.4" r="4.3"/></clipPath>
<g clip-path="url(#fc)"><rect x="938" y="443" width="5.9" height="5.3" fill="#2196f3"/><rect x="943.9" y="444.2" width="5" height="1.1" fill="#f23645"/><rect x="943.9" y="446.6" width="5" height="1.4" fill="#f23645"/><rect x="938" y="450.2" width="11" height="1.5" fill="#f23645"/></g>
<polygon points="997.2,463 999.3,459.3 1003.7,459.3 1005.8,463 1003.7,466.7 999.3,466.7" fill="none" stroke="#2a2e39" stroke-width="0.8" stroke-linejoin="round"/>
<circle cx="1001.5" cy="463" r="1.5" fill="none" stroke="#2a2e39" stroke-width="0.8"/>
<path d="M6.9,438.8 H13.6 V446.9 H10.2 V442.2 H6.9 Z" fill="#131722"/><circle cx="15.9" cy="440.5" r="1.7" fill="#131722"/><path d="M19.6,438.8 H23.5 L20.1,446.9 H16.2 Z" fill="#131722"/>
<g font-family="'Liberation Sans', sans-serif">
<text x="19" y="11.84" font-size="7.1" fill="#131722" text-anchor="start" stroke="#131722" stroke-width="0.18" transform="rotate(0.1 19 11.84)">O</text>
<text x="25.6" y="11.84" font-size="7.1" fill="#e0521f" text-anchor="start" stroke="#e0521f" stroke-width="0.18" transform="rotate(0.1 25.6 11.84)">104,523.73</text>
<text x="65" y="11.84" font-size="7.1" fill="#131722" text-anchor="start" stroke="#131722" stroke-width="0.18" transform="rotate(0.1 65 11.84)">H</text>
<text x="70.6" y="11.84" font-size="7.1" fill="#e0521f" text-anchor="start" stroke="#e0521f" stroke-width="0.18" transform="rotate(0.1 70.6 11.84)">107,503.80</text>
<text x="109.7" y="11.84" font-size="7.1" fill="#131722" text-anchor="start" stroke="#131722" stroke-width="0.18" transform="rotate(0.1 109.7 11.84)">L</text>
<text x="113.5" y="11.84" font-size="7.1" fill="#e0521f" text-anchor="start" stroke="#e0521f" stroke-width="0.18" transform="rotate(0.1 113.5 11.84)">94,000.70</text>
<text x="149.8" y="11.84" font-size="7.1" fill="#131722" text-anchor="start" stroke="#131722" stroke-width="0.18" transform="rotate(0.1 149.8 11.84)">C</text>
<text x="154.2" y="11.84" font-size="7.1" fill="#e0521f" text-anchor="start" stroke="#e0521f" stroke-width="0.18" transform="rotate(0.1 154.2 11.84)">96,067.57</text>
<text x="191" y="11.84" font-size="7.1" fill="#e0521f" text-anchor="start" stroke="#e0521f" stroke-width="0.18" transform="rotate(0.1 191 11.84)">−8,456.23</text>
<text x="226" y="11.84" font-size="7.1" fill="#e0521f" text-anchor="start" stroke="#e0521f" stroke-width="0.18" transform="rotate(0.1 226 11.84)">(−8.09%)</text>
<text x="27.1" y="26.14" font-size="7.1" fill="#f23645" text-anchor="middle" stroke="#f23645" stroke-width="0.18" transform="rotate(0.1 27.1 26.14)">96,069.03</text>
<text x="27.1" y="33.82" font-size="6.2" fill="#f23645" text-anchor="middle" stroke="#f23645" stroke-width="0.18" transform="rotate(0.1 27.1 33.82)">SELL</text>
<text x="95.6" y="26.14" font-size="7.1" fill="#2962ff" text-anchor="middle" stroke="#2962ff" stroke-width="0.18" transform="rotate(0.1 95.6 26.14)">96,086.15</text>
<text x="95.6" y="33.82" font-size="6.2" fill="#2962ff" text-anchor="middle" stroke="#2962ff" stroke-width="0.18" transform="rotate(0.1 95.6 33.82)">BUY</text>
<text x="61.6" y="29.53" font-size="5.4" fill="#131722" text-anchor="middle" stroke="#131722" stroke-width="0.18" transform="rotate(0.1 61.6 29.53)">17.12</text>
<text x="5" y="49.14" font-size="7.1" fill="#131722" text-anchor="start" letter-spacing="-0.15" stroke="#131722" stroke-width="0.18" transform="rotate(0.1 5 49.14)">SMA 50 close</text>
<text x="51.5" y="49.14" font-size="7.1" fill="#2962ff" text-anchor="start" stroke="#2962ff" stroke-width="0.18" transform="rotate(0.1 51.5 49.14)">102,845.20</text>
<text x="984.8" y="452.90" font-size="6.7" fill="#131722" text-anchor="start" stroke="#131722" stroke-width="0.18" transform="rotate(0.1 984.8 452.90)">10,000.00</text>
<text x="984.8" y="435.44" font-size="6.7" fill="#131722" text-anchor="start" stroke="#131722" stroke-width="0.18" transform="rotate(0.1 984.8 435.44)">15,000.00</text>
<text x="984.8" y="417.99" font-size="6.7" fill="#131722" text-anchor="start" stroke="#131722" stroke-width="0.18" transform="rotate(0.1 984.8 417.99)">20,000.00</text>
<text x="984.8" y="400.53" font-size="6.7" fill="#131722" text-anchor="start" stroke="#131722" stroke-width="0.18" transform="rotate(0.1 984.8 400.53)">25,000.00</text>
<text x="984.8" y="383.08" font-size="6.7" fill="#131722" text-anchor="start" stroke="#131722" stroke-width="0.18" transform="rotate(0.1 984.8 383.08)">30,000.00</text>
<text x="984.8" y="365.62" font-size="6.7" fill="#131722" text-anchor="start" stroke="#131722" stroke-width="0.18" transform="rotate(0.1 984.8 365.62)">35,000.00</text>
<text x="984.8" y="348.17" font-size="6.7" fill="#131722" text-anchor="start" stroke="#131722" stroke-width="0.18" transform="rotate(0.1 984.8 348.17)">40,000.00</text>
<text x="984.8" y="330.71" font-size="6.7" fill="#131722" text-anchor="start" stroke="#131722" stroke-width="0.18" transform="rotate(0.1 984.8 330.71)">45,000.00</text>
<text x="984.8" y="313.26" font-size="6.7" fill="#131722" text-anchor="start" stroke="#131722" stroke-width="0.18" transform="rotate(0.1 984.8 313.26)">50,000.00</text>
<text x="984.8" y="295.80" font-size="6.7" fill="#131722" text-anchor="start" stroke="#131722" stroke-width="0.18" transform="rotate(0.1 984.8 295.80)">55,000.00</text>
<text x="984.8" y="278.35" font-size="6.7" fill="#131722" text-anchor="start" stroke="#131722" stroke-width="0.18" transform="rotate(0.1 984.8 278.35)">60,000.00</text>
<text x="984.8" y="260.89" font-size="6.7" fill="#131722" text-anchor="start" stroke="#131722" stroke-width="0.18" transform="rotate(0.1 984.8 260.89)">65,000.00</text>
<text x="984.8" y="243.44" font-size="6.7" fill="#131722" text-anchor="start" stroke="#131722" stroke-width="0.18" transform="rotate(0.1 984.8 243.44)">70,000.00</text>
<text x="984.8" y="225.98" font-size="6.7" fill="#131722" text-anchor="start" stroke="#131722" stroke-width="0.18" transform="rotate(0.1 984.8 225.98)">75,000.00</text>
<text x="984.8" y="208.53" font-size="6.7" fill="#131722" text-anchor="start" stroke="#131722" stroke-width="0.18" transform="rotate(0.1 984.8 208.53)">80,000.00</text>
<text x="984.8" y="191.07" font-size="6.7" fill="#131722" text-anchor="start" stroke="#131722" stroke-width="0.18" transform="rotate(0.1 984.8 191.07)">85,000.00</text>
<text x="984.8" y="173.62" font-size="6.7" fill="#131722" text-anchor="start" stroke="#131722" stroke-width="0.18" transform="rotate(0.1 984.8 173.62)">90,000.00</text>
<text x="984.8" y="138.71" font-size="6.7" fill="#131722" text-anchor="start" stroke="#131722" stroke-width="0.18" transform="rotate(0.1 984.8 138.71)">100,000.00</text>
<text x="984.8" y="103.80" font-size="6.7" fill="#131722" text-anchor="start" stroke="#131722" stroke-width="0.18" transform="rotate(0.1 984.8 103.80)">110,000.00</text>
<text x="984.8" y="86.34" font-size="6.7" fill="#131722" text-anchor="start" stroke="#131722" stroke-width="0.18" transform="rotate(0.1 984.8 86.34)">115,000.00</text>
<text x="984.8" y="68.89" font-size="6.7" fill="#131722" text-anchor="start" stroke="#131722" stroke-width="0.18" transform="rotate(0.1 984.8 68.89)">120,000.00</text>
<text x="984.8" y="51.43" font-size="6.7" fill="#131722" text-anchor="start" stroke="#131722" stroke-width="0.18" transform="rotate(0.1 984.8 51.43)">125,000.00</text>
<text x="984.8" y="33.98" font-size="6.7" fill="#131722" text-anchor="start" stroke="#131722" stroke-width="0.18" transform="rotate(0.1 984.8 33.98)">130,000.00</text>
<rect x="979.7" y="112.9" width="41.6" height="18.8" fill="#2962ff"/>
<rect x="979.7" y="146.3" width="37.4" height="17.8" fill="#e0521f"/>
<rect x="979.7" y="164" width="37.4" height="8.9" fill="#2962ff"/>
<text x="984.6" y="119.70" font-size="6.7" fill="#fff" text-anchor="start" font-weight="bold" transform="rotate(0.1 984.6 119.70)">105,000.00</text>
<text x="984.6" y="128.90" font-size="6.7" fill="#fff" text-anchor="start" font-weight="bold" transform="rotate(0.1 984.6 128.90)">102,845.20</text>
<text x="984.4" y="153.10" font-size="6.7" fill="#fff" text-anchor="start" font-weight="bold" transform="rotate(0.1 984.4 153.10)">96,067.57</text>
<text x="984.6" y="161.00" font-size="6.7" fill="#fff" text-anchor="start" opacity=".85" stroke="#fff" stroke-width="0.18" transform="rotate(0.1 984.6 161.00)">12:28:42</text>
<text x="984.4" y="170.50" font-size="6.7" fill="#fff" text-anchor="start" font-weight="bold" transform="rotate(0.1 984.4 170.50)">95,000.00</text>
<text x="984" y="11.70" font-size="6.7" fill="#131722" text-anchor="start" stroke="#131722" stroke-width="0.18" transform="rotate(0.1 984 11.70)">USD</text>
<text x="10.4" y="465.20" font-size="6.7" fill="#131722" text-anchor="middle" stroke="#131722" stroke-width="0.18" transform="rotate(0.1 10.4 465.20)">Mar</text>
<text x="63.3" y="465.20" font-size="6.7" fill="#131722" text-anchor="middle" stroke="#131722" stroke-width="0.18" transform="rotate(0.1 63.3 465.20)">May</text>
<text x="122.8" y="465.20" font-size="6.7" fill="#131722" text-anchor="middle" stroke="#131722" stroke-width="0.18" transform="rotate(0.1 122.8 465.20)">Jul</text>
<text x="182.4" y="465.20" font-size="6.7" fill="#131722" text-anchor="middle" stroke="#131722" stroke-width="0.18" transform="rotate(0.1 182.4 465.20)">Sep</text>
<text x="241.9" y="465.20" font-size="6.7" fill="#131722" text-anchor="middle" stroke="#131722" stroke-width="0.18" transform="rotate(0.1 241.9 465.20)">Nov</text>
<text x="294.8" y="465.20" font-size="6.7" fill="#131722" text-anchor="middle" font-weight="bold" transform="rotate(0.1 294.8 465.20)">2024</text>
<text x="354.3" y="465.20" font-size="6.7" fill="#131722" text-anchor="middle" stroke="#131722" stroke-width="0.18" transform="rotate(0.1 354.3 465.20)">Mar</text>
<text x="413.8" y="465.20" font-size="6.7" fill="#131722" text-anchor="middle" stroke="#131722" stroke-width="0.18" transform="rotate(0.1 413.8 465.20)">May</text>
<text x="466.7" y="465.20" font-size="6.7" fill="#131722" text-anchor="middle" stroke="#131722" stroke-width="0.18" transform="rotate(0.1 466.7 465.20)">Jul</text>
<text x="526.2" y="465.20" font-size="6.7" fill="#131722" text-anchor="middle" stroke="#131722" stroke-width="0.18" transform="rotate(0.1 526.2 465.20)">Sep</text>
<text x="585.7" y="465.20" font-size="6.7" fill="#131722" text-anchor="middle" stroke="#131722" stroke-width="0.18" transform="rotate(0.1 585.7 465.20)">Nov</text>
<text x="645.3" y="465.20" font-size="6.7" fill="#131722" text-anchor="middle" font-weight="bold" transform="rotate(0.1 645.3 465.20)">2025</text>
<text x="698.2" y="465.20" font-size="6.7" fill="#131722" text-anchor="middle" stroke="#131722" stroke-width="0.18" transform="rotate(0.1 698.2 465.20)">Mar</text>
<text x="757.7" y="465.20" font-size="6.7" fill="#131722" text-anchor="middle" stroke="#131722" stroke-width="0.18" transform="rotate(0.1 757.7 465.20)">May</text>
<text x="817.2" y="465.20" font-size="6.7" fill="#131722" text-anchor="middle" stroke="#131722" stroke-width="0.18" transform="rotate(0.1 817.2 465.20)">Jul</text>
<text x="870.1" y="465.20" font-size="6.7" fill="#131722" text-anchor="middle" stroke="#131722" stroke-width="0.18" transform="rotate(0.1 870.1 465.20)">Sep</text>
<text x="929.6" y="465.20" font-size="6.7" fill="#131722" text-anchor="middle" stroke="#131722" stroke-width="0.18" transform="rotate(0.1 929.6 465.20)">Nov</text>
<text x="28.3" y="446.93" font-size="11.4" fill="#0d0f16" text-anchor="start" letter-spacing="0.07" font-weight="bold" transform="rotate(0.1 28.3 446.93)">TradingView</text>
</g>
</svg>
</div>
</body></html>
